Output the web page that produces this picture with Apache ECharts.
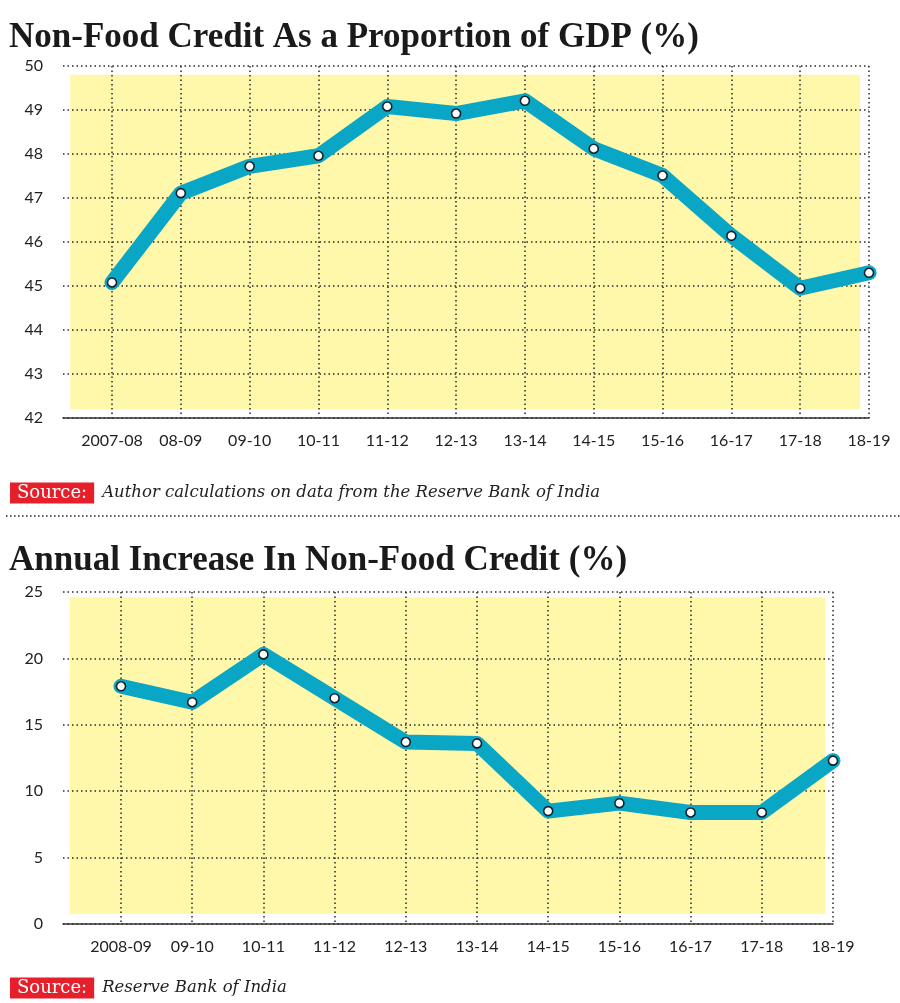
<!DOCTYPE html>
<html>
<head>
<meta charset="utf-8">
<script src="https://cdn.jsdelivr.net/npm/echarts@6/dist/echarts.min.js"></script>
<style>
html,body{margin:0;padding:0;background:#fff;}
#c{width:900px;height:1003px;}
</style>
</head>
<body>
<div id="c"></div>
<script>
// ---- data ----
const categories1 = ['2007-08','08-09','09-10','10-11','11-12','12-13','13-14','14-15','15-16','16-17','17-18','18-19'];
const creditToGDP = [45.08,47.11,47.72,47.96,49.08,48.92,49.21,48.12,47.51,46.14,44.95,45.30];
const categories2 = ['2008-09','09-10','10-11','11-12','12-13','13-14','14-15','15-16','16-17','17-18','18-19'];
const annualIncrease = [17.9,16.7,20.3,17.0,13.7,13.6,8.5,9.1,8.4,8.4,12.3];
const yRange1 = [42, 50, 1];
const yRange2 = [0, 25, 5];
const title1 = 'Non-Food Credit As a Proportion of GDP (%)';
const title2 = 'Annual Increase In Non-Food Credit (%)';
const source1 = 'Author calculations on data from the Reserve Bank of India';
const source2 = 'Reserve Bank of India';

// ---- styles ----
const LINE = '#09a6c5';
const YELLOW = '#fff7aa';
const DOT = {color:'#2a2a2a', width:1.5, type:[1.5,3]};
const LABEL = {color:'#222', fontFamily:'Lato', fontSize:16};

const chart = echarts.init(document.getElementById('c'), null, {renderer:'canvas'});

function baseX(grid){
  return {type:'value', gridIndex:grid, min:0, max:1, z:3,
    axisLine:{show:true, lineStyle:{color:'#333', width:1.5}},
    axisTick:{show:false}, axisLabel:{show:false}, splitLine:{show:false}};
}
function catX(grid, cats){
  return {type:'category', gridIndex:grid, data:cats, boundaryGap:false, z:3,
    axisLine:{show:false}, axisTick:{show:false},
    axisLabel:Object.assign({interval:0, margin:15}, LABEL),
    splitLine:{show:true, interval:0, lineStyle:DOT}};
}
function valY(grid, r, show){
  return {type:'value', gridIndex:grid, min:r[0], max:r[1], interval:r[2], z:3, show:show,
    axisLine:{show:false}, axisTick:{show:false},
    axisLabel:Object.assign({margin:20}, LABEL),
    splitLine:{show:true, lineStyle:DOT}};
}
function bg(xi, yi, y0, y1, x0, x1){
  return {type:'line', xAxisIndex:xi, yAxisIndex:yi, data:[], z:0, silent:true,
    markArea:{silent:true, z:0, itemStyle:{color:YELLOW}, data:[[{coord:[x0,y1]},{coord:[x1,y0]}]]}};
}
function lineSeries(xi, yi, vals){
  return {type:'line', xAxisIndex:xi, yAxisIndex:yi, data:vals, z:5,
    lineStyle:{color:LINE, width:15, cap:'round', join:'round'},
    symbol:'circle', symbolSize:9, showAllSymbol:true,
    itemStyle:{color:'#fff', borderColor:'#13222e', borderWidth:1.6}};
}

const srcRich = {
  src:{backgroundColor:'#e5202a', color:'#fff', fontFamily:'DejaVu Serif', fontWeight:'normal', fontSize:18, padding:[1,7,0,7], height:20, lineHeight:20},
  txt:{color:'#222', fontFamily:'DejaVu Serif', fontStyle:'italic', fontWeight:'normal', fontSize:16.5, lineHeight:20, padding:[0,0,0,8]}
};

chart.setOption({
  animation:false,
  backgroundColor:'#fff',
  title:[
    {text:title1, left:4, top:15, textStyle:{fontFamily:'Liberation Serif', fontWeight:'bold', fontSize:35, color:'#1a1a1a'}},
    {text:title2, left:4, top:538, textStyle:{fontFamily:'Liberation Serif', fontWeight:'bold', fontSize:35, color:'#1a1a1a'}},
    {text:'{src|Source:}{txt|'+source1+'}', left:5, top:478, textStyle:{rich:srcRich}},
    {text:'{src|Source:}{txt|'+source2+'}', left:5, top:973, textStyle:{rich:srcRich}}
  ],
  grid:[
    {left:63, top:66, width:806, height:352},
    {left:112, top:66, width:757, height:352},
    {left:63, top:592, width:770, height:332},
    {left:121, top:592, width:712, height:332}
  ],
  xAxis:[baseX(0), catX(1, categories1), baseX(2), catX(3, categories2)],
  yAxis:[valY(0, yRange1, true), valY(1, yRange1, false), valY(2, yRange2, true), valY(3, yRange2, false)],
  graphic:[
    {type:'line', shape:{x1:6, y1:516, x2:900, y2:516}, style:{stroke:'#222', lineWidth:1.5, lineDash:[1.5,2.5]}}
  ],
  series:[
    bg(0, 0, 42.2, 49.8, 0.009, 0.989),
    bg(2, 2, 0.75, 24.6, 0.009, 0.99),
    lineSeries(1, 1, creditToGDP),
    lineSeries(3, 3, annualIncrease)
  ]
});
</script>
</body>
</html>
